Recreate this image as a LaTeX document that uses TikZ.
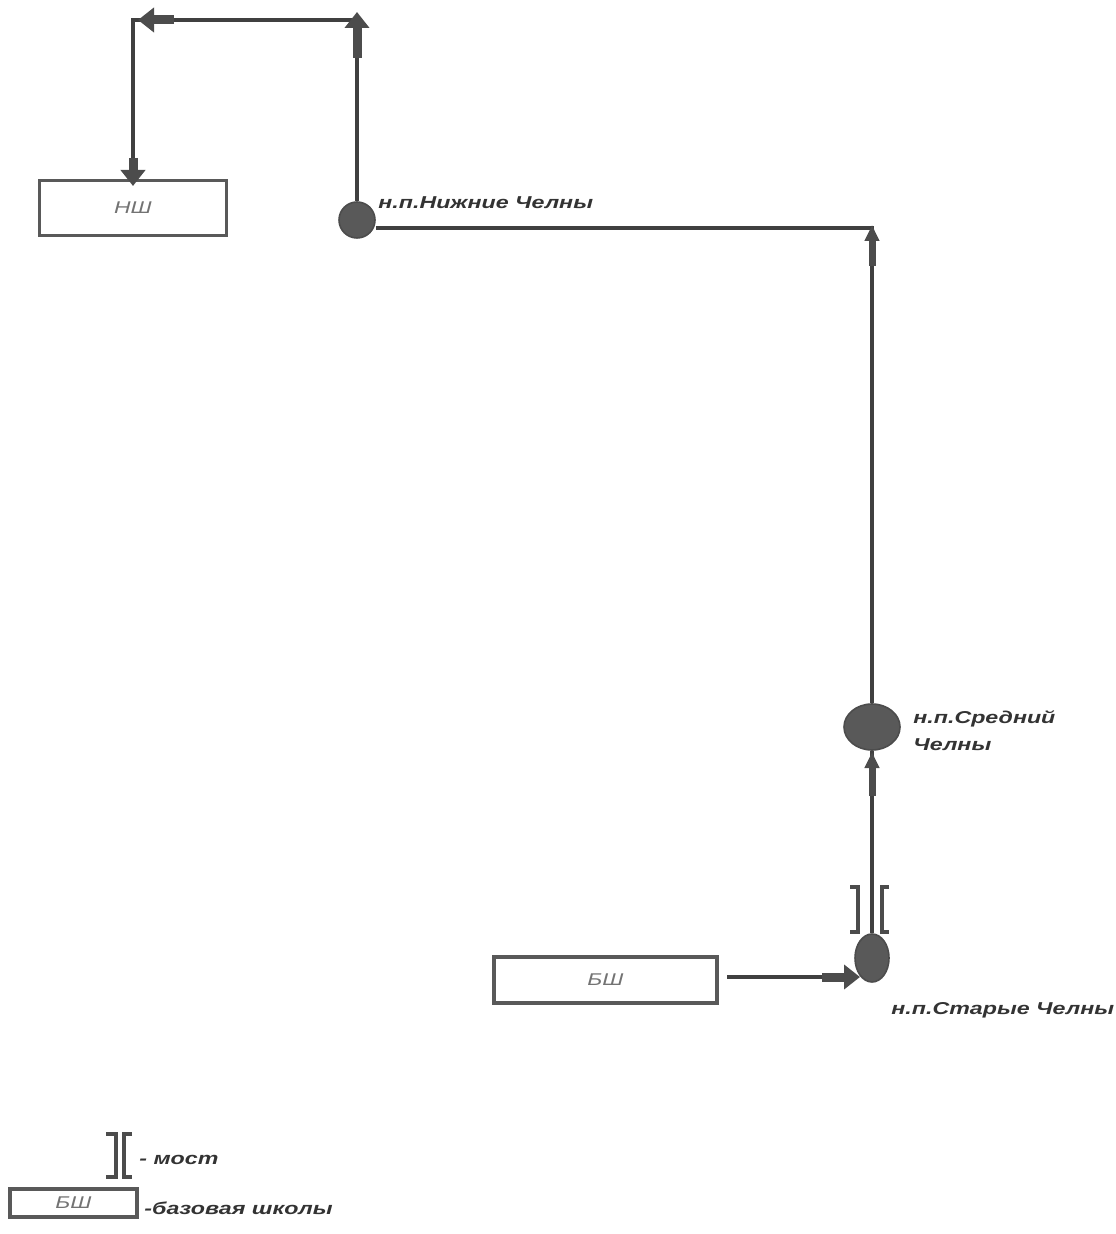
\documentclass[tikz,border=0pt]{standalone}
\usepackage{fontspec}
\setmainfont{Liberation Sans}
\newfontfamily\lblfont[FakeStretch=1.35]{Liberation Sans}
\usetikzlibrary{arrows.meta,shapes.geometric}

\begin{document}
\begin{tikzpicture}[x=0.5pt, y=-0.5pt,
        road/.style={draw=black!75, line width=1.6pt},
        school/.style={draw=black!65, line width=1.6pt, inner sep=0pt,
            font=\lblfont\itshape\fontsize{8.5}{9}\selectfont, text=black!55},
        village/.style={fill=black!65, draw=black!70, line width=0.8pt},
        lbl/.style={font=\lblfont\bfseries\itshape\fontsize{8.6}{13.5}\selectfont,
            text=black!80, inner sep=0pt},
        flow/.style={draw=black!70, line width=4.5pt, -{Triangle[width=12pt,length=8pt]}},
        flowsmall/.style={draw=black!70, line width=3.5pt, -{Triangle[width=7pt,length=8pt]}},
        bridge/.style={draw=black!70, line width=1.8pt}]

        \useasboundingbox (0,0) rectangle (1115,1234);

        % schools and villages
        \node[school, minimum width=93.5pt, minimum height=27.5pt]
            (nsh) at (133,208) {НШ};
        \node[school, minimum width=111.5pt, minimum height=23pt]
            (bsh) at (605.5,980) {БШ};

        \node[village, circle, minimum size=18pt] (nizh) at (357,220) {};
        \node[village, ellipse, minimum width=28pt, minimum height=23pt] (sred) at (872,727) {};
        \node[village, ellipse, minimum width=17pt, minimum height=24pt] (star) at (872,958) {};

        \coordinate (top) at (357,20);
        \coordinate (turn) at (872,228);
        \coordinate (bshout) at (727,977);

        % roads
        \draw[road]
            (nizh.north) -- (top) -| (nsh.north);
        \draw[road]
            (sred.north) -- (turn) -- (nizh.east |- turn);
        \draw[road]
            (star.north) -- (sred.south);
        \draw[road]
            (bshout) -- (star.west |- bshout);

        % direction of travel
        \draw[flow] (357,58) -- (357,12);
        \draw[flow] (174,20) -- (138,20);
        \draw[flow] (133,158) -- (133,186);
        \draw[flowsmall] (872,266) -- (872,225);
        \draw[flowsmall] (872,796) -- (872,752);
        \draw[flow] (822,977) -- (860,977);

        % bridge
        \draw[bridge] (850,887) -- (858,887) -- (858,932) -- (850,932);
        \draw[bridge] (889,887) -- (882,887) -- (882,932) -- (889,932);

        % labels
        \node[lbl, anchor=west] (nizhlbl) at (378,203) {н.п.Нижние Челны};
        \node[lbl, anchor=north west, align=left] (sredlbl) at (913,710) {н.п.Средний\\Челны};
        \node[lbl, anchor=west] (starlbl) at (891,1010) {н.п.Старые Челны};

        % legend
        \draw[bridge] (106,1134) -- (116,1134) -- (116,1177) -- (106,1177);
        \draw[bridge] (132,1134) -- (124,1134) -- (124,1177) -- (132,1177);
        \node[lbl, anchor=west] (mostlbl) at (139,1160) {- мост};
        \node[school, minimum width=63.5pt, minimum height=14pt]
            (leg) at (73.5,1203) {БШ};
        \node[lbl, anchor=west] (leglbl) at (144,1208) {-базовая школы};

\end{tikzpicture}
\end{document}
